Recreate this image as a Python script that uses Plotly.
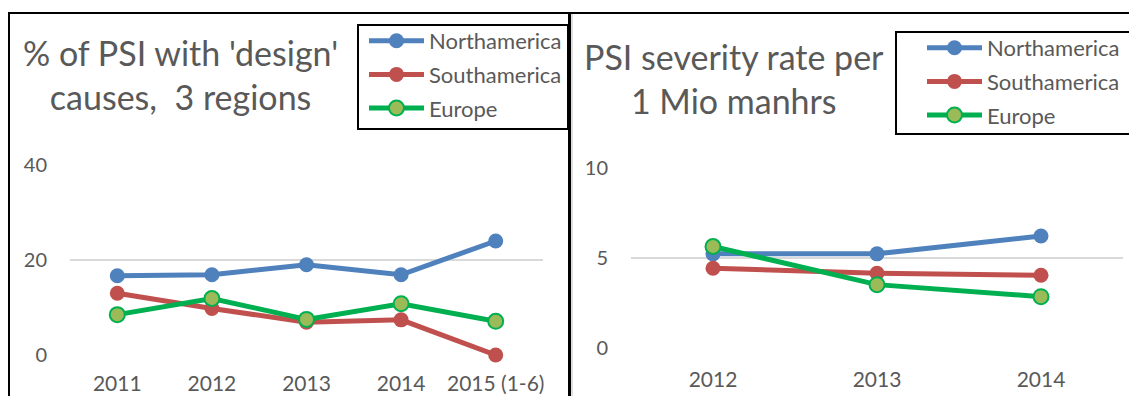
import plotly.graph_objects as go

# ---- data ----
cats_left = ["2011", "2012", "2013", "2014", "2015 (1-6)"]
north_left = [16.7, 16.9, 19.0, 16.9, 24.0]
south_left = [13.0, 9.8, 6.9, 7.4, 0.0]
europe_left = [8.5, 11.9, 7.5, 10.8, 7.1]

cats_right = ["2012", "2013", "2014"]
north_right = [5.23, 5.23, 6.22]
south_right = [4.43, 4.15, 4.04]
europe_right = [5.64, 3.52, 2.85]

series_names = ["Northamerica", "Southamerica", "Europe"]

# page body has an 8px margin; size the figure so no scrollbars appear
OFF = 8
WF, HF = 1137 - 2 * OFF, 404 - 2 * OFF
def px(x): return (x - OFF) / WF
def py(y): return 1 - (y - OFF) / HF

FONT = "Lato"
TXT = "#595959"
BLUE, RED, GREEN, LGREEN = "#4F81BD", "#C0504D", "#00B050", "#9BBB59"

fig = go.Figure()

def add_series(cats, vals, name, color, xa, ya, leg, europe=False):
    marker = dict(size=15, color=LGREEN if europe else color)
    if europe:
        marker["line"] = dict(color=GREEN, width=2)
    fig.add_trace(go.Scatter(
        x=cats, y=vals, name=name, mode="lines+markers",
        line=dict(color=color, width=5), marker=marker,
        xaxis=xa, yaxis=ya, legend=leg, legendgroup=name + leg,
        cliponaxis=False))

add_series(cats_left, north_left, series_names[0], BLUE, "x", "y", "legend")
add_series(cats_left, south_left, series_names[1], RED, "x", "y", "legend")
add_series(cats_left, europe_left, series_names[2], GREEN, "x", "y", "legend", europe=True)
add_series(cats_right, north_right, series_names[0], BLUE, "x2", "y2", "legend2")
add_series(cats_right, south_right, series_names[1], RED, "x2", "y2", "legend2")
add_series(cats_right, europe_right, series_names[2], GREEN, "x2", "y2", "legend2", europe=True)

xfont = dict(family=FONT, size=21, color=TXT)
yfont = dict(family=FONT, size=20, color=TXT)
xcommon = dict(type="category", showgrid=False, showline=False, zeroline=False,
               ticks="", tickfont=xfont, fixedrange=True, automargin=False)
ycommon = dict(showgrid=True, gridcolor="#D9D9D9", gridwidth=1.5, showline=False,
               zeroline=False, ticks="", tickfont=yfont, ticklabelstandoff=22,
               fixedrange=True, automargin=False)
legfont = dict(family=FONT, size=22, color=TXT)

fig.update_layout(
    width=WF, height=HF, margin=dict(l=0, r=0, t=0, b=0, autoexpand=False),
    paper_bgcolor="white", plot_bgcolor="white",
    font=dict(family=FONT, color=TXT),
    xaxis=dict(domain=[px(70), px(543)], range=[-0.5, 4.5], anchor="y",
               ticklabelstandoff=14, **xcommon),
    yaxis=dict(domain=[py(355), py(165)], range=[0, 40], tickvals=[0, 20, 40],
               anchor="x", **ycommon),
    xaxis2=dict(domain=[px(631), px(1123)], range=[-0.5, 2.5], anchor="y2",
                ticklabelstandoff=17, **xcommon),
    yaxis2=dict(domain=[py(348), py(168)], range=[0, 10], tickvals=[0, 5, 10],
                anchor="x2", **ycommon),
    legend=dict(x=px(364), y=py(20), xanchor="left", yanchor="top",
                bgcolor="rgba(0,0,0,0)", borderwidth=0, tracegroupgap=2,
                itemwidth=55, font=legfont),
    legend2=dict(x=px(922), y=py(27), xanchor="left", yanchor="top",
                 bgcolor="rgba(0,0,0,0)", borderwidth=0, tracegroupgap=2,
                 itemwidth=55, font=legfont),
    showlegend=True,
)

# titles
fig.add_annotation(text="% of PSI with 'design'<br>causes,  3 regions",
                   x=px(180), y=py(74), xref="paper", yref="paper",
                   xanchor="center", yanchor="middle",
                   showarrow=False, align="center",
                   font=dict(family=FONT, size=34, color=TXT))
fig.add_annotation(text="PSI severity rate per<br>1 Mio manhrs",
                   x=px(734), y=py(78), xref="paper", yref="paper",
                   xanchor="center", yanchor="middle",
                   showarrow=False, align="center",
                   font=dict(family=FONT, size=34, color=TXT))

# chart frames and legend boxes
shapes = [
    dict(type="line", x0=px(9), x1=px(9), y0=py(13), y1=py(410), line=dict(color="black", width=2)),
    dict(type="line", x0=px(8), x1=px(1140), y0=py(13), y1=py(13), line=dict(color="black", width=2)),
    dict(type="line", x0=px(572), x1=px(572), y0=py(14), y1=py(410), line=dict(color="#BFBFBF", width=1)),
    dict(type="rect", x0=px(358), x1=px(568), y0=py(25), y1=py(129), line=dict(color="black", width=2)),
    dict(type="rect", x0=px(896), x1=px(1145), y0=py(32), y1=py(134), line=dict(color="black", width=2)),
    dict(type="line", x0=px(569.5), x1=px(569.5), y0=py(13), y1=py(410), line=dict(color="black", width=3)),
]
for s in shapes:
    s.update(xref="paper", yref="paper")
fig.update_layout(shapes=shapes)

fig.write_html("out.html")
